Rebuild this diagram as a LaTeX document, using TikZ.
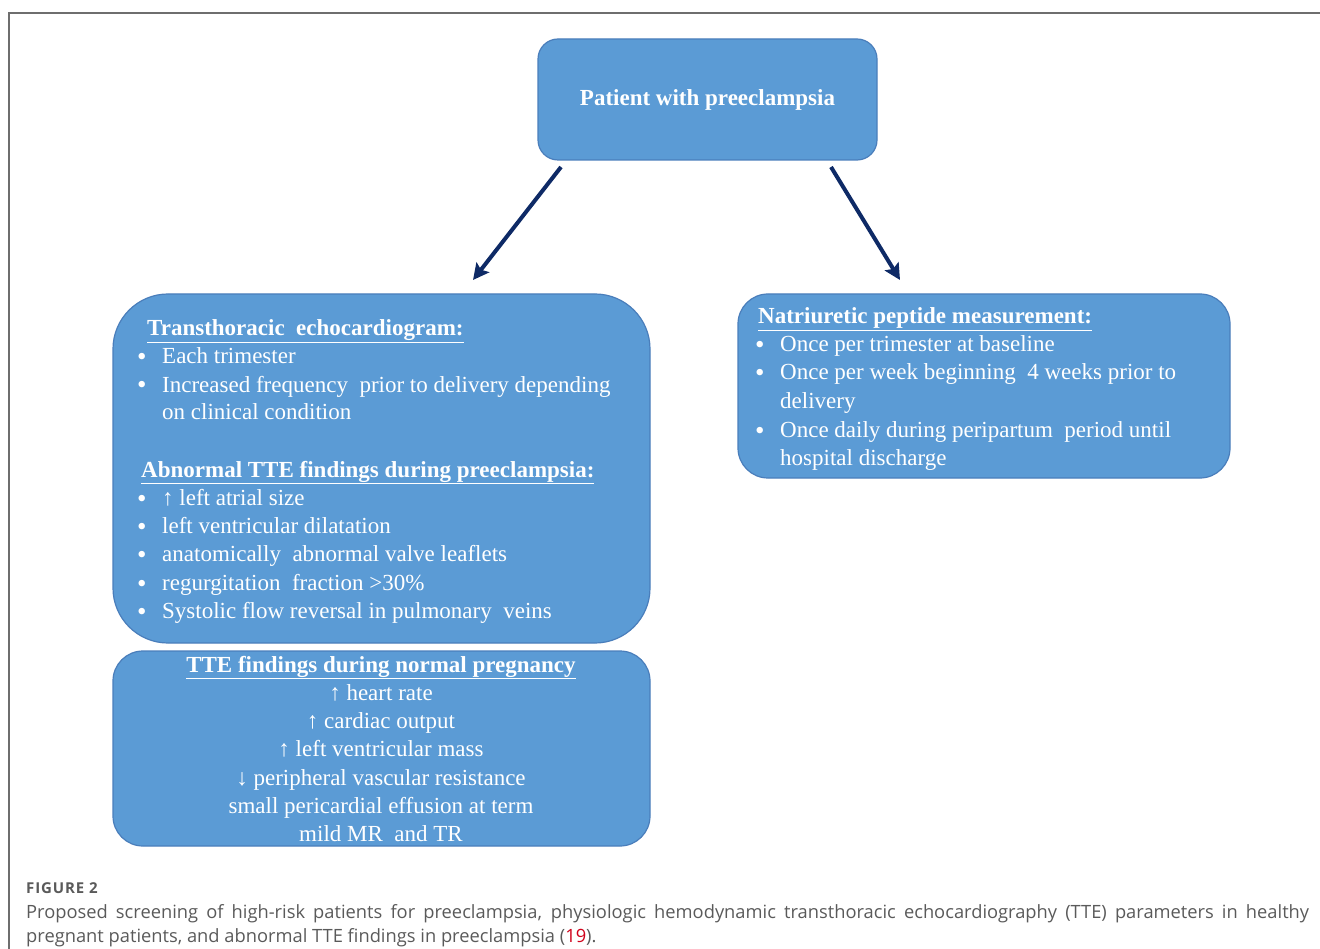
\documentclass[tikz,border=0pt]{standalone}
\usepackage{fontspec}
\setmainfont{Liberation Serif}
\newfontfamily\capfont{Open Sans}
\newfontfamily\capfontls[LetterSpace=6]{Open Sans}
\usetikzlibrary{arrows.meta}
\definecolor{boxblue}{HTML}{5B9BD5}
\definecolor{boxedge}{HTML}{4A7EBB}
\definecolor{arrownavy}{HTML}{0E2A66}
\definecolor{framegray}{HTML}{6E6E6E}
\definecolor{captgray}{HTML}{5A5A5A}
\definecolor{refred}{HTML}{D0021B}
\tikzset{
  box/.style={draw=boxedge, line width=1.2pt, fill=boxblue, inner sep=0pt, text=white},
  arr/.style={draw=arrownavy, line width=4pt, -{Stealth[length=16pt,width=16pt,inset=3pt]}},
  txt/.style={anchor=base west, inner sep=0pt, text=white, font=\fontsize{23}{27}\selectfont},
  ctxt/.style={anchor=base, inner sep=0pt, text=white, font=\fontsize{23}{27}\selectfont},
  hd/.style={txt, font=\fontsize{23}{27}\selectfont\bfseries},
  chd/.style={ctxt, font=\fontsize{23}{27}\selectfont\bfseries},
  bul/.style={anchor=base west, inner sep=0pt, text=white, yshift=-2pt, font=\fontsize{27}{30}\selectfont},
}
\newcommand{\ul}[1]{\underline{#1}}
\begin{document}
\begin{tikzpicture}[x=1pt,y=-1pt]
\useasboundingbox (0,0) rectangle (1320,949);
\draw[framegray, line width=1.5pt] (9,949) -- (9,13) -- (1320,13);

% boxes
\node[box, rounded corners=20pt, minimum width=339pt, minimum height=121pt,
      font=\fontsize{23}{27}\selectfont\bfseries] (top) at (707.5,99.5) {Patient with preeclampsia};
\node[box, rounded corners=55pt, minimum width=537pt, minimum height=349pt] (tte) at (381.5,468.5) {};
\node[box, rounded corners=30pt, minimum width=492pt, minimum height=184pt] (np) at (984,386) {};
\node[box, rounded corners=30pt, minimum width=537pt, minimum height=195pt] (norm) at (381.5,748.5) {};

% arrows
\coordinate (a1s) at (561,167);
\coordinate (a1e) at (473,280);
\coordinate (a2s) at (831,167);
\coordinate (a2e) at (900,280);
\draw[arr] (a1s) -- (a1e);
\draw[arr] (a2s) -- (a2e);

% left box text
\node[hd] (t1) at (147,336) {\ul{Transthoracic\ \ echocardiogram:}};
\node[bul] (b1) at (137,364) {•};
\node[txt] (l1) at (162,364) {Each trimester};
\node[bul] (b2) at (137,392) {•};
\node[txt] (l2) at (162,392) {Increased frequency\ \ prior to delivery depending};
\node[txt] (l3) at (162,420) {on clinical condition};
\node[hd] (t2) at (141,477) {\ul{Abnormal TTE findings during preeclampsia:}};
\node[bul] (b3) at (137,505) {•};
\node[txt] (l4) at (162,505) {↑ left atrial size};
\node[bul] (b4) at (137,533) {•};
\node[txt] (l5) at (162,533) {left ventricular dilatation};
\node[bul] (b5) at (137,561) {•};
\node[txt] (l6) at (162,561) {anatomically\ \ abnormal valve leaflets};
\node[bul] (b6) at (137,590) {•};
\node[txt] (l7) at (162,590) {regurgitation\ \ fraction >30\%};
\node[bul] (b7) at (137,618) {•};
\node[txt] (l8) at (162,618) {Systolic flow reversal in pulmonary\ \ veins};

% right box text
\node[hd] (t3) at (758,324) {\ul{Natriuretic peptide measurement:}};
\node[bul] (b8) at (755,352) {•};
\node[txt] (r1) at (780,352) {Once per trimester at baseline};
\node[bul] (b9) at (755,380) {•};
\node[txt] (r2) at (780,380) {Once per week beginning\ \ 4 weeks prior to};
\node[txt] (r3) at (780,409) {delivery};
\node[bul] (b10) at (755,437) {•};
\node[txt] (r4) at (780,437) {Once daily during peripartum\ \ period until};
\node[txt] (r5) at (780,465) {hospital discharge};

% bottom box text
\node[chd] (t4) at (381,672) {\ul{TTE findings during normal pregnancy}};
\node[ctxt] (n1) at (381,700) {↑ heart rate};
\node[ctxt] (n2) at (381,728) {↑ cardiac output};
\node[ctxt] (n3) at (381,756) {↑ left ventricular mass};
\node[ctxt] (n4) at (381,785) {↓ peripheral vascular resistance};
\node[ctxt] (n5) at (381,813) {small pericardial effusion at term};
\node[ctxt] (n6) at (381,841) {mild MR\ \ and TR};

% caption
\node[anchor=base west, inner sep=0pt, text=captgray, font=\capfontls\bfseries\fontsize{15}{17}\selectfont] (fig) at (26,893) {FIGURE 2};
\node[anchor=base west, inner sep=0pt, text=captgray, font=\capfont\fontsize{18.3}{21}\selectfont] (c1) at (26,918)
  {\makebox[1283pt][s]{Proposed screening of high-risk patients for preeclampsia, physiologic hemodynamic transthoracic echocardiography (TTE) parameters in healthy}};
\node[anchor=base west, inner sep=0pt, text=captgray, font=\capfont\fontsize{18.3}{21}\selectfont] (c2) at (26,942)
  {pregnant patients, and abnormal TTE findings in preeclampsia (\textcolor{refred}{19}).};
\end{tikzpicture}
\end{document}
